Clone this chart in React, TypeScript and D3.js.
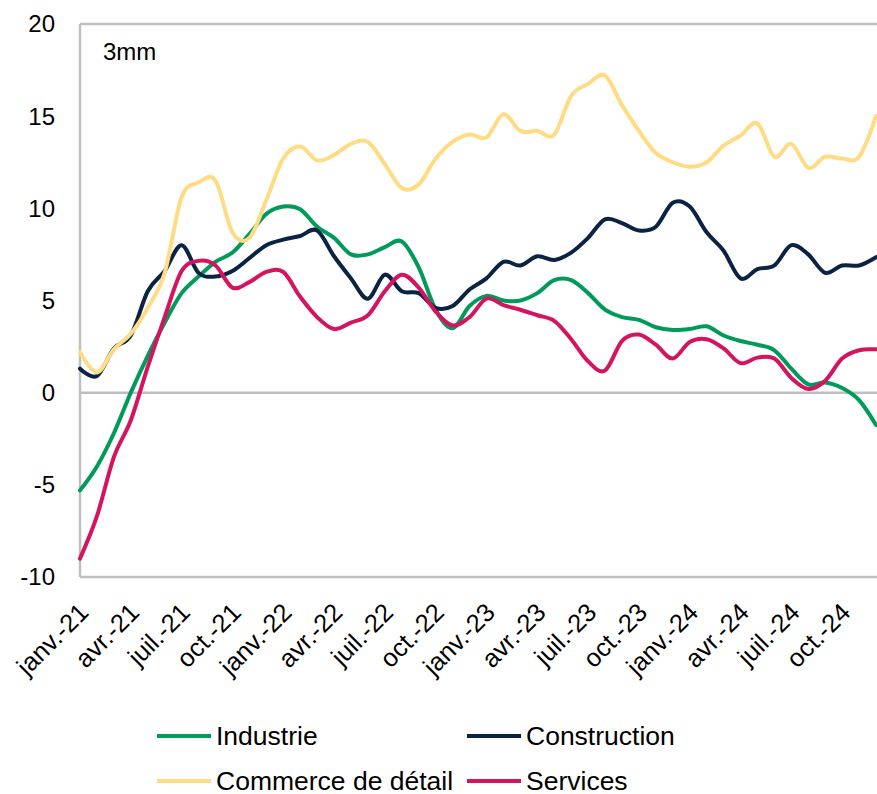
import React from "react";
import * as d3 from "d3";

// Monthly 3-month moving averages, janv.-21 .. déc.-24
const monthNames = ["janv.", "févr.", "mars", "avr.", "mai", "juin", "juil.", "août", "sept.", "oct.", "nov.", "déc."];
const months: string[] = d3.range(48).map((i) => `${monthNames[i % 12]}-${21 + Math.floor(i / 12)}`);

const industrie = [
  -5.3, -4.0, -2.2, 0.0, 2.0, 3.8, 5.4, 6.3, 7.1, 7.6, 8.6, 9.7,
  10.1, 9.95, 9.0, 8.4, 7.5, 7.5, 7.9, 8.2, 6.8, 4.5, 3.5, 4.7,
  5.25, 5.0, 5.0, 5.4, 6.1, 6.1, 5.4, 4.5, 4.1, 3.95, 3.55, 3.4,
  3.45, 3.6, 3.1, 2.8, 2.6, 2.3, 1.3, 0.45, 0.55, 0.25, -0.4, -1.75,
];

const construction = [
  1.3, 0.9, 2.4, 3.1, 5.5, 6.6, 8.0, 6.5, 6.3, 6.6, 7.3, 8.0,
  8.3, 8.5, 8.8, 7.4, 6.2, 5.1, 6.4, 5.5, 5.4, 4.6, 4.7, 5.6,
  6.2, 7.1, 6.9, 7.4, 7.2, 7.6, 8.4, 9.4, 9.2, 8.8, 9.0, 10.3,
  10.1, 8.7, 7.7, 6.2, 6.7, 6.9, 8.0, 7.5, 6.5, 6.9, 6.9, 7.35,
];

const commerce = [
  2.2, 1.1, 2.35, 3.2, 4.6, 6.5, 10.6, 11.4, 11.5, 8.7, 8.4, 10.45,
  12.7, 13.35, 12.6, 12.9, 13.5, 13.6, 12.4, 11.1, 11.3, 12.7, 13.6, 14.0,
  13.85, 15.1, 14.2, 14.2, 14.0, 16.1, 16.75, 17.2, 15.6, 14.2, 13.0, 12.5,
  12.25, 12.5, 13.4, 13.95, 14.6, 12.8, 13.5, 12.2, 12.8, 12.7, 12.8, 15.0,
];

const services = [
  -9.0, -6.7, -3.5, -1.5, 1.4, 4.1, 6.6, 7.15, 6.9, 5.7, 6.0, 6.55,
  6.55, 5.2, 4.1, 3.45, 3.8, 4.2, 5.5, 6.4, 5.7, 4.4, 3.65, 4.1,
  5.1, 4.75, 4.5, 4.2, 3.9, 2.9, 1.7, 1.2, 2.8, 3.15, 2.6, 1.85,
  2.75, 2.9, 2.4, 1.6, 1.9, 1.85, 0.8, 0.2, 0.65, 1.85, 2.3, 2.35,
];

const seriesNames = ["Industrie", "Construction", "Commerce de détail", "Services"];
const seriesColors = ["#009A5B", "#0B2343", "#FFDC84", "#D4145F"];
const seriesValues = [industrie, construction, commerce, services];

const yTicks = [-10, -5, 0, 5, 10, 15, 20];
const labelEvery = 3;
const note = "3mm";

const W = 877;
const H = 794;
const plot = { left: 80, right: 876, top: 24, bottom: 577 };
const FONT = "'Liberation Sans', Arial, sans-serif";
const AXIS = "#BFBFBF";

export default function App() {
  const x = d3.scaleLinear().domain([0, months.length - 1]).range([plot.left, plot.right]);
  const y = d3.scaleLinear().domain([-10, 20]).range([plot.bottom, plot.top]);

  const line = d3
    .line<number>()
    .x((_, i) => x(i))
    .y((v) => y(v))
    .curve(d3.curveCardinal.tension(0));

  const legendRows = [
    [0, 1],
    [2, 3],
  ];
  const legendCols = [157, 467];
  const legendY = [736, 781];

  return (
    <svg
      width={W}
      height={H}
      style={{ position: "absolute", left: 0, top: 0, background: "#fff" }}
      fontFamily={FONT}
    >
      {/* frame */}
      <line x1={plot.left} x2={W + 5} y1={plot.top} y2={plot.top} stroke={AXIS} strokeWidth={2.5} />
      <line x1={plot.left} x2={W + 5} y1={plot.bottom} y2={plot.bottom} stroke={AXIS} strokeWidth={2.5} />
      <line x1={plot.left} x2={plot.left} y1={plot.top} y2={plot.bottom} stroke={AXIS} strokeWidth={2.5} />
      <line x1={plot.left} x2={W + 5} y1={y(0)} y2={y(0)} stroke={AXIS} strokeWidth={2.5} />

      {/* y labels */}
      {yTicks.map((t) => (
        <text key={t} x={55} y={y(t)} dy="0.35em" textAnchor="end" fontSize={24} fill="#000">
          {t}
        </text>
      ))}

      {/* x labels */}
      {months.map((m, i) =>
        i % labelEvery === 0 ? (
          <text
            key={m}
            transform={`translate(${x(i) + 10},${614}) rotate(-45)`}
            textAnchor="end"
            fontSize={25.5}
            fill="#000"
          >
            {m}
          </text>
        ) : null
      )}

      <text x={103} y={60} fontSize={24} fill="#000">
        {note}
      </text>

      {/* series */}
      {seriesValues.map((vals, k) => (
        <path
          key={seriesNames[k]}
          d={line(vals) ?? ""}
          fill="none"
          stroke={seriesColors[k]}
          strokeWidth={4}
          strokeLinejoin="round"
          strokeLinecap="round"
        />
      ))}

      {/* legend */}
      {legendRows.map((row, r) =>
        row.map((k, c) => (
          <g key={seriesNames[k]}>
            <line
              x1={legendCols[c]}
              x2={legendCols[c] + 54}
              y1={legendY[r]}
              y2={legendY[r]}
              stroke={seriesColors[k]}
              strokeWidth={4}
            />
            <text x={legendCols[c] + 59} y={legendY[r]} dy="0.35em" fontSize={26.5} fill="#000">
              {seriesNames[k]}
            </text>
          </g>
        ))
      )}
    </svg>
  );
}
